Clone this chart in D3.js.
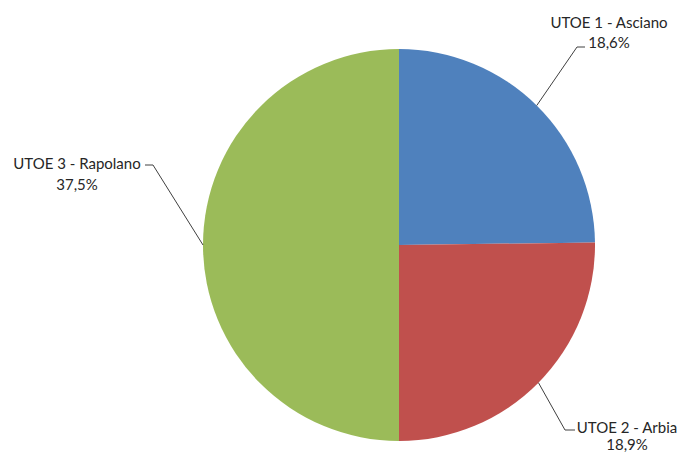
<!DOCTYPE html>
<html>
<head>
<meta charset="utf-8">
<script src="https://cdn.jsdelivr.net/npm/d3@7"></script>
<style>
  body { margin: 0; background: #fff; }
  svg text { font-family: Lato, "Open Sans", sans-serif; font-size: 15px; fill: #262626; }
</style>
</head>
<body>
<svg id="chart" width="681" height="453"></svg>
<script>
const categories = ["UTOE 1 - Asciano", "UTOE 2 - Arbia", "UTOE 3 - Rapolano"];
const values = [18.6, 18.9, 37.5];
const valueLabels = ["18,6%", "18,9%", "37,5%"];
const colors = ["#4F81BD", "#C0504D", "#9BBB59"];

const width = 681, height = 453;
const cx = 399, cy = 245, radius = 196;

// leader line elbow/end and text anchor (centre x, first baseline) for each label
const labelLayout = [
  { elbow: [577, 47], end: [585, 47], text: [609, 28], gap: 20 },
  { elbow: [565, 430], end: [575, 430], text: [627, 433], gap: 17 },
  { elbow: [153, 165], end: [145, 165], text: [77, 169], gap: 21 }
];

const svg = d3.select("#chart");
const g = svg.append("g").attr("transform", `translate(${cx},${cy})`);

const data = categories.map((c, i) => ({ name: c, value: values[i], label: valueLabels[i], color: colors[i] }));

const pie = d3.pie().value(d => d.value).sort(null);
const arc = d3.arc().innerRadius(0).outerRadius(radius);
const arcs = pie(data);

g.selectAll("path.slice")
  .data(arcs)
  .enter()
  .append("path")
  .attr("class", "slice")
  .attr("d", arc)
  .attr("fill", d => d.data.color);

// Leader lines + labels
arcs.forEach((a, i) => {
  const mid = (a.startAngle + a.endAngle) / 2;
  const px = cx + radius * Math.sin(mid);
  const py = cy - radius * Math.cos(mid);
  const lay = labelLayout[i];

  svg.append("polyline")
    .attr("points", [[px, py], lay.elbow, lay.end].map(p => p.join(",")).join(" "))
    .attr("fill", "none")
    .attr("stroke", "#404040")
    .attr("stroke-width", 1);

  const t = svg.append("text")
    .attr("x", lay.text[0])
    .attr("y", lay.text[1])
    .attr("text-anchor", "middle");
  t.append("tspan").attr("x", lay.text[0]).attr("dy", 0).text(a.data.name);
  t.append("tspan").attr("x", lay.text[0]).attr("dy", lay.gap).text(a.data.label);
});
</script>
</body>
</html>
